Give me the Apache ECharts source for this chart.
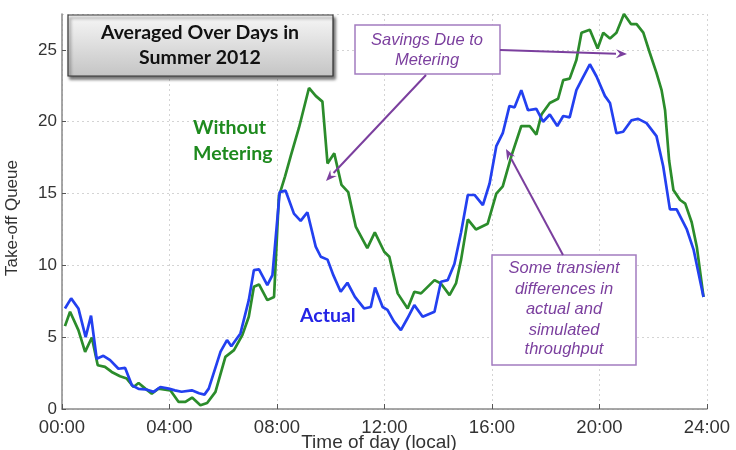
<!DOCTYPE html>
<html>
<head>
<meta charset="utf-8">
<script src="https://cdn.jsdelivr.net/npm/echarts@6/dist/echarts.min.js"></script>
<style>
  html, body { margin: 0; padding: 0; background: #fff; }
  #chart { width: 736px; height: 450px; }
</style>
</head>
<body>
<div id="chart"></div>
<script>
// time of day in hours, queue length
var actualHours = [0.11, 0.34, 0.61, 0.88, 1.08, 1.29, 1.54, 1.79, 2.1, 2.35, 2.6, 2.85, 3.1, 3.41, 3.66, 3.97, 4.2, 4.45, 4.83, 5.1, 5.3, 5.46, 5.9, 6.14, 6.3, 6.64, 6.95, 7.14, 7.33, 7.64, 7.83, 8.1, 8.32, 8.63, 8.88, 9.13, 9.44, 9.63, 9.88, 10.1, 10.37, 10.62, 10.9, 11.24, 11.49, 11.65, 11.93, 12.11, 12.35, 12.61, 12.85, 13.11, 13.42, 13.86, 14.1, 14.35, 14.6, 14.85, 15.1, 15.35, 15.66, 15.91, 16.16, 16.4, 16.65, 16.84, 17.09, 17.34, 17.65, 17.9, 18.15, 18.43, 18.65, 18.89, 19.14, 19.33, 19.64, 19.89, 20.2, 20.39, 20.63, 20.88, 21.19, 21.44, 21.75, 22.12, 22.37, 22.62, 22.87, 23.25, 23.5, 23.87];
var actualQueue = [7.0, 7.7, 7.0, 5.0, 6.5, 3.5, 3.7, 3.4, 2.8, 2.86, 1.65, 1.4, 1.37, 1.19, 1.53, 1.42, 1.3, 1.2, 1.3, 1.1, 1.0, 1.42, 4.0, 4.8, 4.37, 5.26, 7.58, 9.67, 9.72, 8.63, 9.32, 15.1, 15.2, 13.6, 13.1, 13.7, 11.3, 10.6, 10.4, 9.3, 8.16, 8.79, 7.8, 7.0, 7.1, 8.46, 7.1, 6.9, 6.1, 5.49, 6.3, 7.23, 6.42, 6.77, 8.86, 8.97, 10.1, 12.3, 14.9, 14.9, 14.2, 15.7, 18.3, 19.2, 21.1, 21.0, 22.2, 20.8, 20.9, 20.0, 20.5, 19.7, 20.4, 20.3, 22.2, 22.9, 24.0, 23.15, 21.8, 21.3, 19.2, 19.3, 20.1, 20.2, 19.9, 19.0, 16.9, 13.9, 13.9, 12.5, 11.1, 7.8];

var noMeterHours = [0.11, 0.3, 0.61, 0.86, 1.11, 1.33, 1.6, 1.85, 2.16, 2.41, 2.66, 2.85, 3.1, 3.34, 3.59, 4.03, 4.34, 4.59, 4.84, 5.15, 5.4, 5.71, 6.08, 6.4, 6.71, 6.95, 7.14, 7.33, 7.64, 7.89, 8.07, 8.3, 8.51, 8.82, 9.19, 9.44, 9.69, 9.88, 10.13, 10.4, 10.65, 10.93, 11.36, 11.64, 11.99, 12.18, 12.49, 12.86, 13.11, 13.36, 13.86, 14.1, 14.42, 14.66, 14.85, 15.1, 15.4, 15.84, 16.16, 16.4, 16.72, 17.09, 17.4, 17.65, 17.84, 18.15, 18.46, 18.65, 18.89, 19.14, 19.33, 19.64, 19.93, 20.14, 20.39, 20.63, 20.91, 21.17, 21.38, 21.63, 21.87, 22.12, 22.31, 22.44, 22.59, 22.75, 23.0, 23.19, 23.43, 23.62, 23.87];
var noMeterQueue = [5.77, 6.77, 5.49, 3.98, 4.98, 3.05, 2.93, 2.58, 2.28, 2.12, 1.53, 1.81, 1.42, 1.07, 1.42, 1.3, 0.49, 0.49, 0.8, 0.26, 0.42, 1.19, 3.63, 4.1, 5.14, 6.42, 8.51, 8.67, 7.58, 7.8, 14.8, 16.2, 17.6, 19.6, 22.35, 21.8, 21.4, 17.1, 17.8, 15.6, 15.1, 12.7, 11.2, 12.3, 10.95, 10.6, 8.05, 7.0, 8.16, 8.05, 8.97, 8.74, 7.93, 8.74, 10.4, 13.2, 12.5, 12.9, 15.0, 15.5, 17.6, 19.7, 19.7, 19.1, 20.5, 21.3, 21.6, 22.9, 23.0, 24.3, 26.2, 26.4, 25.1, 26.2, 25.8, 26.2, 27.5, 26.8, 26.8, 26.2, 24.8, 23.4, 22.2, 20.8, 17.3, 15.25, 14.55, 14.3, 13.0, 11.3, 7.8];

var xTicks = [0, 4, 8, 12, 16, 20, 24];

function pairs(xs, ys) {
  var out = [];
  for (var i = 0; i < xs.length; i++) out.push([xs[i], ys[i]]);
  return out;
}

function pad(n) { return (n < 10 ? "0" : "") + n + ":00"; }

// straight arrow drawn as line + head
function arrow(x1, y1, x2, y2, color) {
  var a = Math.atan2(y2 - y1, x2 - x1);
  var len = 11, w = 4.5;
  var bx = x2 - len * Math.cos(a), by = y2 - len * Math.sin(a);
  return [
    { type: "line", shape: { x1: x1, y1: y1, x2: bx, y2: by }, style: { stroke: color, lineWidth: 2 }, z: 20 },
    { type: "polygon", shape: { points: [
        [x2, y2],
        [bx + w * Math.sin(a), by - w * Math.cos(a)],
        [bx + 0.35 * len * Math.cos(a), by + 0.35 * len * Math.sin(a)],
        [bx - w * Math.sin(a), by + w * Math.cos(a)]
      ] }, style: { fill: color }, z: 20 }
  ];
}

var purple = "#7b3f9e";
var boldFont = "bold 19.5px Lato, 'Open Sans', sans-serif";
var noteFont = "italic 16.5px 'Liberation Sans', Arial, sans-serif";
var gridStyle = { color: "#d4d4d4", type: [2, 3], width: 1 };

var graphics = [
  { type: "rect", shape: { x: 68, y: 15, width: 265, height: 61 },
    style: { fill: new echarts.graphic.LinearGradient(0, 0, 0, 1, [{ offset: 0, color: "#f7f7f7" }, { offset: 1, color: "#c4c4c4" }]),
      stroke: "#333", lineWidth: 1.2, shadowBlur: 3, shadowOffsetX: 2, shadowOffsetY: 3, shadowColor: "rgba(0,0,0,0.55)" }, z: 18 },
  { type: "text", x: 200, y: 33, style: { text: "Averaged Over Days in", font: boldFont, fill: "#111", align: "center", verticalAlign: "middle" }, z: 19 },
  { type: "text", x: 200, y: 58, style: { text: "Summer 2012", font: boldFont, fill: "#111", align: "center", verticalAlign: "middle" }, z: 19 },

  { type: "text", x: 193, y: 128, style: { text: "Without", font: boldFont, fill: "#1e8a1e", verticalAlign: "middle" }, z: 19 },
  { type: "text", x: 193, y: 154, style: { text: "Metering", font: boldFont, fill: "#1e8a1e", verticalAlign: "middle" }, z: 19 },
  { type: "text", x: 300, y: 316, style: { text: "Actual", font: boldFont, fill: "#2424e6", verticalAlign: "middle" }, z: 19 },

  // axis titles
  { type: "text", x: 12, y: 218, rotation: Math.PI / 2,
    style: { text: "Take-off Queue", font: "17px 'Liberation Sans', Arial, sans-serif", fill: "#333", align: "center", verticalAlign: "middle" } },
  { type: "text", x: 379, y: 443,
    style: { text: "Time of day (local)", font: "19px 'Liberation Sans', Arial, sans-serif", fill: "#333", align: "center", verticalAlign: "middle" } },

  { type: "rect", shape: { x: 355, y: 25, width: 145, height: 49 }, style: { fill: "#fff", stroke: "#a37cc0", lineWidth: 1.5 }, z: 18 },
  { type: "text", x: 427, y: 40, style: { text: "Savings Due to", font: noteFont, fill: purple, align: "center", verticalAlign: "middle" }, z: 19 },
  { type: "text", x: 427, y: 60, style: { text: "Metering", font: noteFont, fill: purple, align: "center", verticalAlign: "middle" }, z: 19 },

  { type: "rect", shape: { x: 492, y: 255, width: 144, height: 110 }, style: { fill: "#fff", stroke: "#a37cc0", lineWidth: 1.5 }, z: 18 },
  { type: "text", x: 564, y: 268, style: { text: "Some transient", font: noteFont, fill: purple, align: "center", verticalAlign: "middle" }, z: 19 },
  { type: "text", x: 564, y: 289, style: { text: "differences in", font: noteFont, fill: purple, align: "center", verticalAlign: "middle" }, z: 19 },
  { type: "text", x: 564, y: 309, style: { text: "actual and", font: noteFont, fill: purple, align: "center", verticalAlign: "middle" }, z: 19 },
  { type: "text", x: 564, y: 330, style: { text: "simulated", font: noteFont, fill: purple, align: "center", verticalAlign: "middle" }, z: 19 },
  { type: "text", x: 564, y: 349, style: { text: "throughput", font: noteFont, fill: purple, align: "center", verticalAlign: "middle" }, z: 19 }
];
graphics = graphics
  .concat(arrow(426, 75, 326, 181, purple))
  .concat(arrow(500, 50, 627, 54, purple))
  .concat(arrow(563, 255, 506, 149, purple));

var chart = echarts.init(document.getElementById("chart"));
chart.setOption({
  backgroundColor: "#fff",
  animation: false,
  grid: { left: 62, right: 29, top: 14, bottom: 41, outerBoundsMode: "none" },
  xAxis: {
    type: "value",
    min: 0,
    max: 24,
    interval: 4,
    axisLine: { lineStyle: { color: "#8a8a8a", width: 1.5 } },
    axisTick: { inside: true, length: 5, lineStyle: { color: "#555" } },
    axisLabel: { fontFamily: "'Liberation Sans', Arial", fontSize: 18.5, color: "#333", margin: 9,
      formatter: function (v) { return xTicks.indexOf(v) >= 0 ? pad(v) : ""; } },
    splitLine: { show: true, lineStyle: gridStyle }
  },
  yAxis: {
    type: "value",
    min: 0,
    max: 27.5,
    interval: 5,
    axisLine: { show: true, lineStyle: { color: "#8a8a8a", width: 1.5 } },
    axisTick: { show: true, inside: true, length: 4, lineStyle: { color: "#555" } },
    axisLabel: { fontFamily: "'Liberation Sans', Arial", fontSize: 17, color: "#333", margin: 5, showMaxLabel: false },
    splitLine: { show: true, lineStyle: gridStyle }
  },
  series: [
    {
      name: "Without Metering",
      type: "line",
      data: pairs(noMeterHours, noMeterQueue),
      showSymbol: false,
      lineStyle: { color: "#2b8c2b", width: 2.7 },
      z: 3
    },
    {
      name: "Actual",
      type: "line",
      data: pairs(actualHours, actualQueue),
      showSymbol: false,
      lineStyle: { color: "#2340f0", width: 2.7 },
      z: 4
    }
  ],
  graphic: graphics
});
</script>
</body>
</html>
